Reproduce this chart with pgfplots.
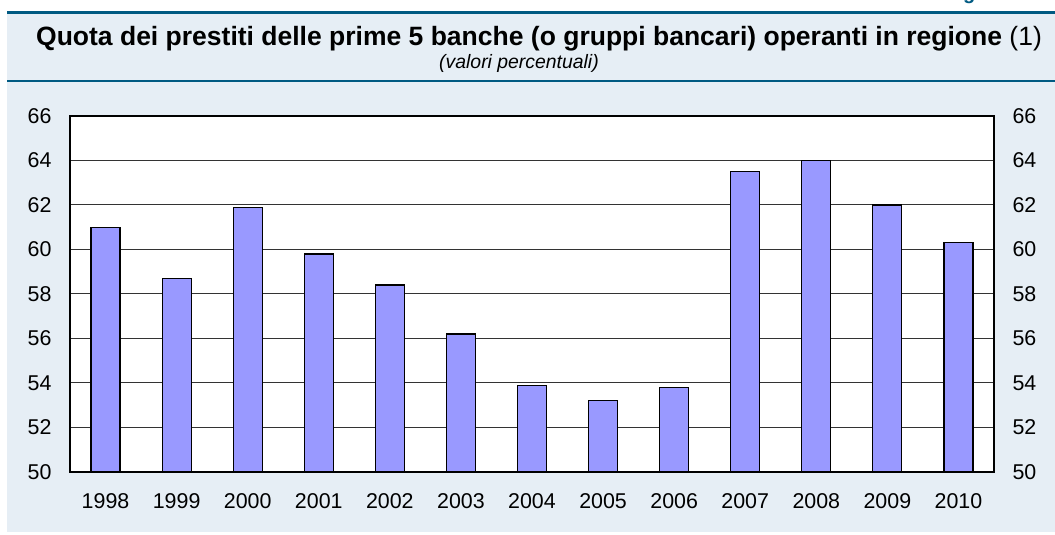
\documentclass[border=0pt]{standalone}
\usepackage{pgfplots}
\pgfplotsset{compat=1.18}
\usepackage{fontspec}
\setmainfont{Liberation Sans}
\definecolor{bgblue}{HTML}{E6EEF5}
\definecolor{rule}{HTML}{005A82}
\definecolor{barcol}{HTML}{9999FF}
\definecolor{gridcol}{HTML}{333333}

\begin{document}
\begin{tikzpicture}[x=1pt,y=1pt]
	\clip (0,0) rectangle (1055,535);
	% page and panel
	\fill[white] (0,0) rectangle (1055,535);
	\fill[bgblue] (7,3) rectangle (1055,522);
	\draw[rule, line width=3pt] (7,522) -- (1055,522);
	\draw[rule, line width=2.5pt] (7,454) -- (1055,454);
	% figure number, cut by the top edge as in the source
	\node[anchor=base east, text=rule, font=\fontsize{20}{24}\selectfont\bfseries, inner sep=0pt] at (1040,535.5) {Figura 3.3};
	\node[font=\fontsize{26.5}{30}\selectfont, inner sep=0pt] at (539,496) {\textbf{Quota dei prestiti delle prime 5 banche (o gruppi bancari) operanti in regione} (1)};
	\node[font=\fontsize{19.4}{22}\selectfont\itshape, inner sep=0pt] at (519,472) {(valori percentuali)};

	\begin{axis}[at={(70pt,63pt)}, anchor=south west, scale only axis, width=924pt, height=356pt,
		xmin=-0.5, xmax=12.5, ymin=50, ymax=66,
		xtick={0,...,12}, xticklabels={1998,1999,2000,2001,2002,2003,2004,2005,2006,2007,2008,2009,2010},
		ytick={50,52,...,66}, major tick length=0,
		ymajorgrids, grid style={gridcol, line width=1pt},
		axis line style={black, line width=1.8pt},
		axis background/.style={fill=white},
		tick label style={font=\fontsize{21.4}{25}\selectfont},
		/pgf/number format/assume math mode=true,
		yticklabel style={xshift=-15pt},
		xticklabel style={yshift=-18pt}]
		\addplot[ybar, bar width=29pt, fill=barcol, draw=black, line width=1.2pt] coordinates {
			(0,61.0) (1,58.7) (2,61.9) (3,59.8) (4,58.4) (5,56.2) (6,53.9)
			(7,53.2) (8,53.8) (9,63.5) (10,64.0) (11,62.0) (12,60.3)};
	\end{axis}
	\begin{axis}[at={(70pt,63pt)}, anchor=south west, scale only axis, width=924pt, height=356pt,
		xmin=-0.5, xmax=12.5, ymin=50, ymax=66,
		axis x line=none, axis y line*=right, y axis line style={draw=none},
		ytick={50,52,...,66}, major tick length=0,
		tick label style={font=\fontsize{21.4}{25}\selectfont},
		/pgf/number format/assume math mode=true,
		yticklabel style={xshift=15pt}]
	\end{axis}
\end{tikzpicture}
\end{document}
